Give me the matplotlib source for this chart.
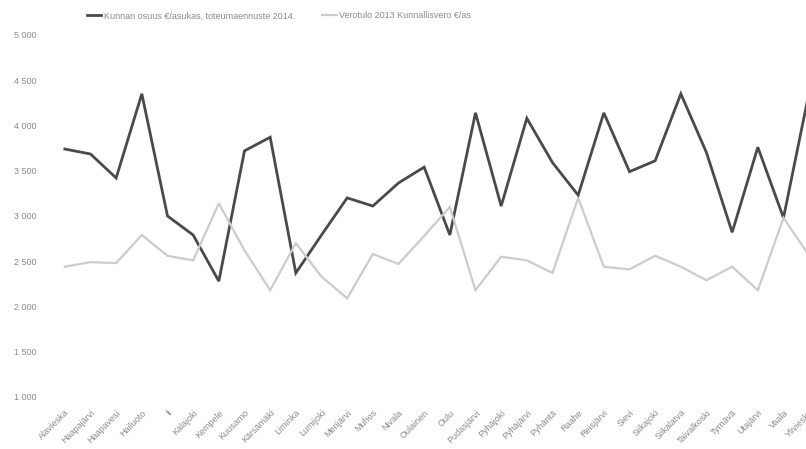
import matplotlib
matplotlib.use("Agg")
import matplotlib.pyplot as plt
from matplotlib.ticker import FuncFormatter

# Pohjois-Pohjanmaan kunnat
kunnat = [
    "Alavieska", "Haapajärvi", "Haapavesi", "Hailuoto", "Ii", "Kalajoki",
    "Kempele", "Kuusamo", "Kärsämäki", "Liminka", "Lumijoki", "Merijärvi",
    "Muhos", "Nivala", "Oulainen", "Oulu", "Pudasjärvi", "Pyhäjoki",
    "Pyhäjärvi", "Pyhäntä", "Raahe", "Reisjärvi", "Sievi", "Siikajoki",
    "Siikalatva", "Taivalkoski", "Tyrnävä", "Utajärvi", "Vaala", "Ylivieska",
]

# €/asukas
kunnan_osuus_2014 = [
    3740, 3685, 3420, 4350, 3000, 2790, 2280, 3720, 3870, 2370,
    2790, 3200, 3110, 3365, 3540, 2790, 4140, 3110, 4080, 3590,
    3230, 4140, 3490, 3610, 4350, 3700, 2820, 3760, 2980, 4370,
]
verotulo_2013 = [
    2440, 2490, 2480, 2790, 2560, 2510, 3140, 2620, 2180, 2700,
    2330, 2090, 2580, 2470, 2780, 3100, 2180, 2550, 2510, 2370,
    3200, 2440, 2410, 2560, 2440, 2290, 2440, 2180, 2980, 2560,
]

legend_labels = ["Kunnan osuus €/asukas, toteumaennuste 2014.",
                 "Verotulo 2013 Kunnallisvero €/as"]
y_ticks = [1000, 1500, 2000, 2500, 3000, 3500, 4000, 4500, 5000]

plt.rcParams['font.family'] = ['Liberation Sans', 'DejaVu Sans']
text_col = "#8a8a8a"

W, H = 806, 449
fig = plt.figure(figsize=(W / 100, H / 100), dpi=100)
# plot area runs a bit past the right edge of the picture
left, right = 52, 822
top, bottom = 35, 397
ax = fig.add_axes([left / W, 1 - bottom / H, (right - left) / W, (bottom - top) / H])

x = range(len(kunnat))
l1, = ax.plot(x, kunnan_osuus_2014, color="#4a4a4a", lw=2.0, solid_joinstyle="miter")
l2, = ax.plot(x, verotulo_2013, color="#cccccc", lw=1.6, solid_joinstyle="miter")

ax.set_xlim(-0.5, len(kunnat) - 0.5)
ax.set_ylim(1000, 5000)
ax.set_yticks(y_ticks)
ax.yaxis.set_major_formatter(FuncFormatter(lambda v, p: f"{int(v):,}".replace(",", " ")))
ax.set_xticks(list(x))
ax.set_xticklabels(kunnat, rotation=45, ha="right", rotation_mode="anchor")

for s in ax.spines.values():
    s.set_visible(False)
ax.tick_params(axis="both", length=0, labelsize=6.5, labelcolor=text_col)
ax.tick_params(axis="y", pad=11)
ax.tick_params(axis="x", pad=8)

fig.legend([l1, l2], legend_labels, loc="center", ncol=2,
           bbox_to_anchor=(279 / W, 1 - 16 / H), frameon=False,
           fontsize=6.5, labelcolor=text_col, handlelength=1.6,
           handletextpad=0.3, columnspacing=3.0)

fig.savefig("out.png", dpi=100, facecolor="white")
